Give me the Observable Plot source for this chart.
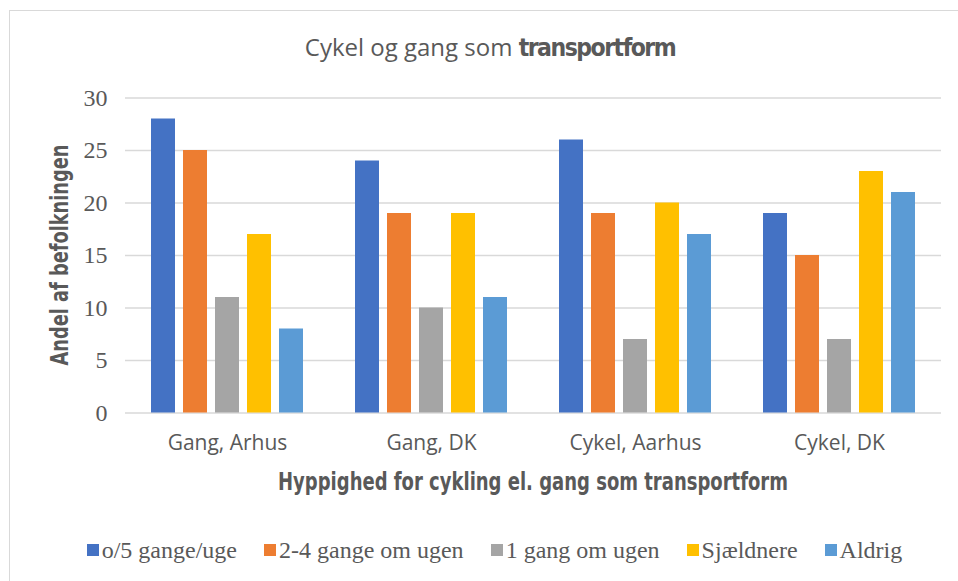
<!DOCTYPE html>
<html>
<head>
<meta charset="utf-8">
<script src="https://cdn.jsdelivr.net/npm/d3@7"></script>
<script src="https://cdn.jsdelivr.net/npm/@observablehq/plot@0.6"></script>
<style>
  html, body { margin: 0; padding: 0; background: #fff; }
  #wrap { position: relative; width: 958px; height: 581px; overflow: hidden; background: #fff; }
  #frame { position: absolute; left: 9px; top: 10px; width: 1000px; height: 1000px; border: 1.5px solid #d9d9d9; }
  .abs { position: absolute; white-space: nowrap; color: #595959; }
  .cond { font-family: "DejaVu Sans Condensed", "DejaVu Sans", sans-serif; font-stretch: condensed; font-weight: bold; }
  #title { left: 0; width: 980px; top: 32px; line-height: 30px; text-align: center; font-family: "Open Sans", sans-serif; font-size: 24px; }
  #title b { font-size: 24.5px; letter-spacing: -1.5px; }
  #xlabel { left: 0; width: 1066px; top: 465px; line-height: 34px; text-align: center; font-size: 25px; transform: scaleX(0.8); transform-origin: 533px 50%; }
  #ylabel { left: 60px; top: 255px; line-height: 34px; font-size: 25px; transform: translate(-50%, -50%) rotate(-90deg) scaleX(0.79); }
  #legend { left: 0; width: 989px; top: 534px; height: 32px; display: flex; justify-content: center; align-items: center; gap: 27px; font-family: "Liberation Serif", serif; font-size: 24px; }
  .item { display: flex; align-items: center; gap: 3px; }
  .sw { width: 12px; height: 12px; display: inline-block; }
</style>
</head>
<body>
<div id="wrap">
  <div id="frame"></div>
  <div id="chart" class="abs" style="left:0;top:0"></div>
  <div id="title" class="abs">Cykel og gang som <b class="cond">transportform</b></div>
  <div id="ylabel" class="abs cond">Andel af befolkningen</div>
  <div id="xlabel" class="abs cond">Hyppighed for cykling el. gang som transportform</div>
  <div id="legend" class="abs"></div>
</div>
<script>
const categories = ["Gang, Arhus", "Gang, DK", "Cykel, Aarhus", "Cykel, DK"];
const series = ["o/5 gange/uge", "2-4 gange om ugen", "1 gang om ugen", "Sjældnere", "Aldrig"];
const valsO5 = [28, 24, 26, 19];
const vals2to4 = [25, 19, 19, 15];
const vals1 = [11, 10, 7, 7];
const valsSjaeldnere = [17, 19, 20, 23];
const valsAldrig = [8, 11, 17, 21];
const colors = ["#4472C4", "#ED7D31", "#A5A5A5", "#FFC000", "#5B9BD5"];
const yTicks = [0, 5, 10, 15, 20, 25, 30];

const seriesValues = [valsO5, vals2to4, vals1, valsSjaeldnere, valsAldrig];
const rows = [];
categories.forEach((cat, i) => {
  series.forEach((s, j) => rows.push({cat, series: s, value: seriesValues[j][i]}));
});

const chart = Plot.plot({
  width: 958,
  height: 470,
  marginLeft: 125,
  marginRight: 17,
  marginTop: 97.5,
  marginBottom: 57.5,
  style: {background: "transparent", color: "#595959", overflow: "visible"},
  fx: {domain: categories, padding: 0, label: null},
  x: {domain: series, paddingInner: 0.25, paddingOuter: 0.8125, axis: null},
  y: {domain: [0, 30], label: null},
  color: {domain: series, range: colors},
  marks: [
    Plot.gridY(yTicks, {stroke: "#d9d9d9", strokeOpacity: 1, strokeWidth: 1.3}),
    Plot.barY(rows, {fx: "cat", x: "series", y: "value", fill: "series"}),
    Plot.axisY(yTicks, {tickSize: 0, tickPadding: 18, fontSize: 24, fontFamily: "Liberation Serif", fill: "#595959", label: null}),
    Plot.axisFx({anchor: "bottom", tickSize: 0, tickPadding: 22, fontSize: 21, fontFamily: "Open Sans", fill: "#595959", label: null})
  ]
});
document.getElementById("chart").appendChild(chart);

const legend = document.getElementById("legend");
series.forEach((s, j) => {
  const item = document.createElement("div");
  item.className = "item";
  const sw = document.createElement("span");
  sw.className = "sw";
  sw.style.background = colors[j];
  const t = document.createElement("span");
  t.textContent = s;
  item.appendChild(sw);
  item.appendChild(t);
  legend.appendChild(item);
});
</script>
</body>
</html>
